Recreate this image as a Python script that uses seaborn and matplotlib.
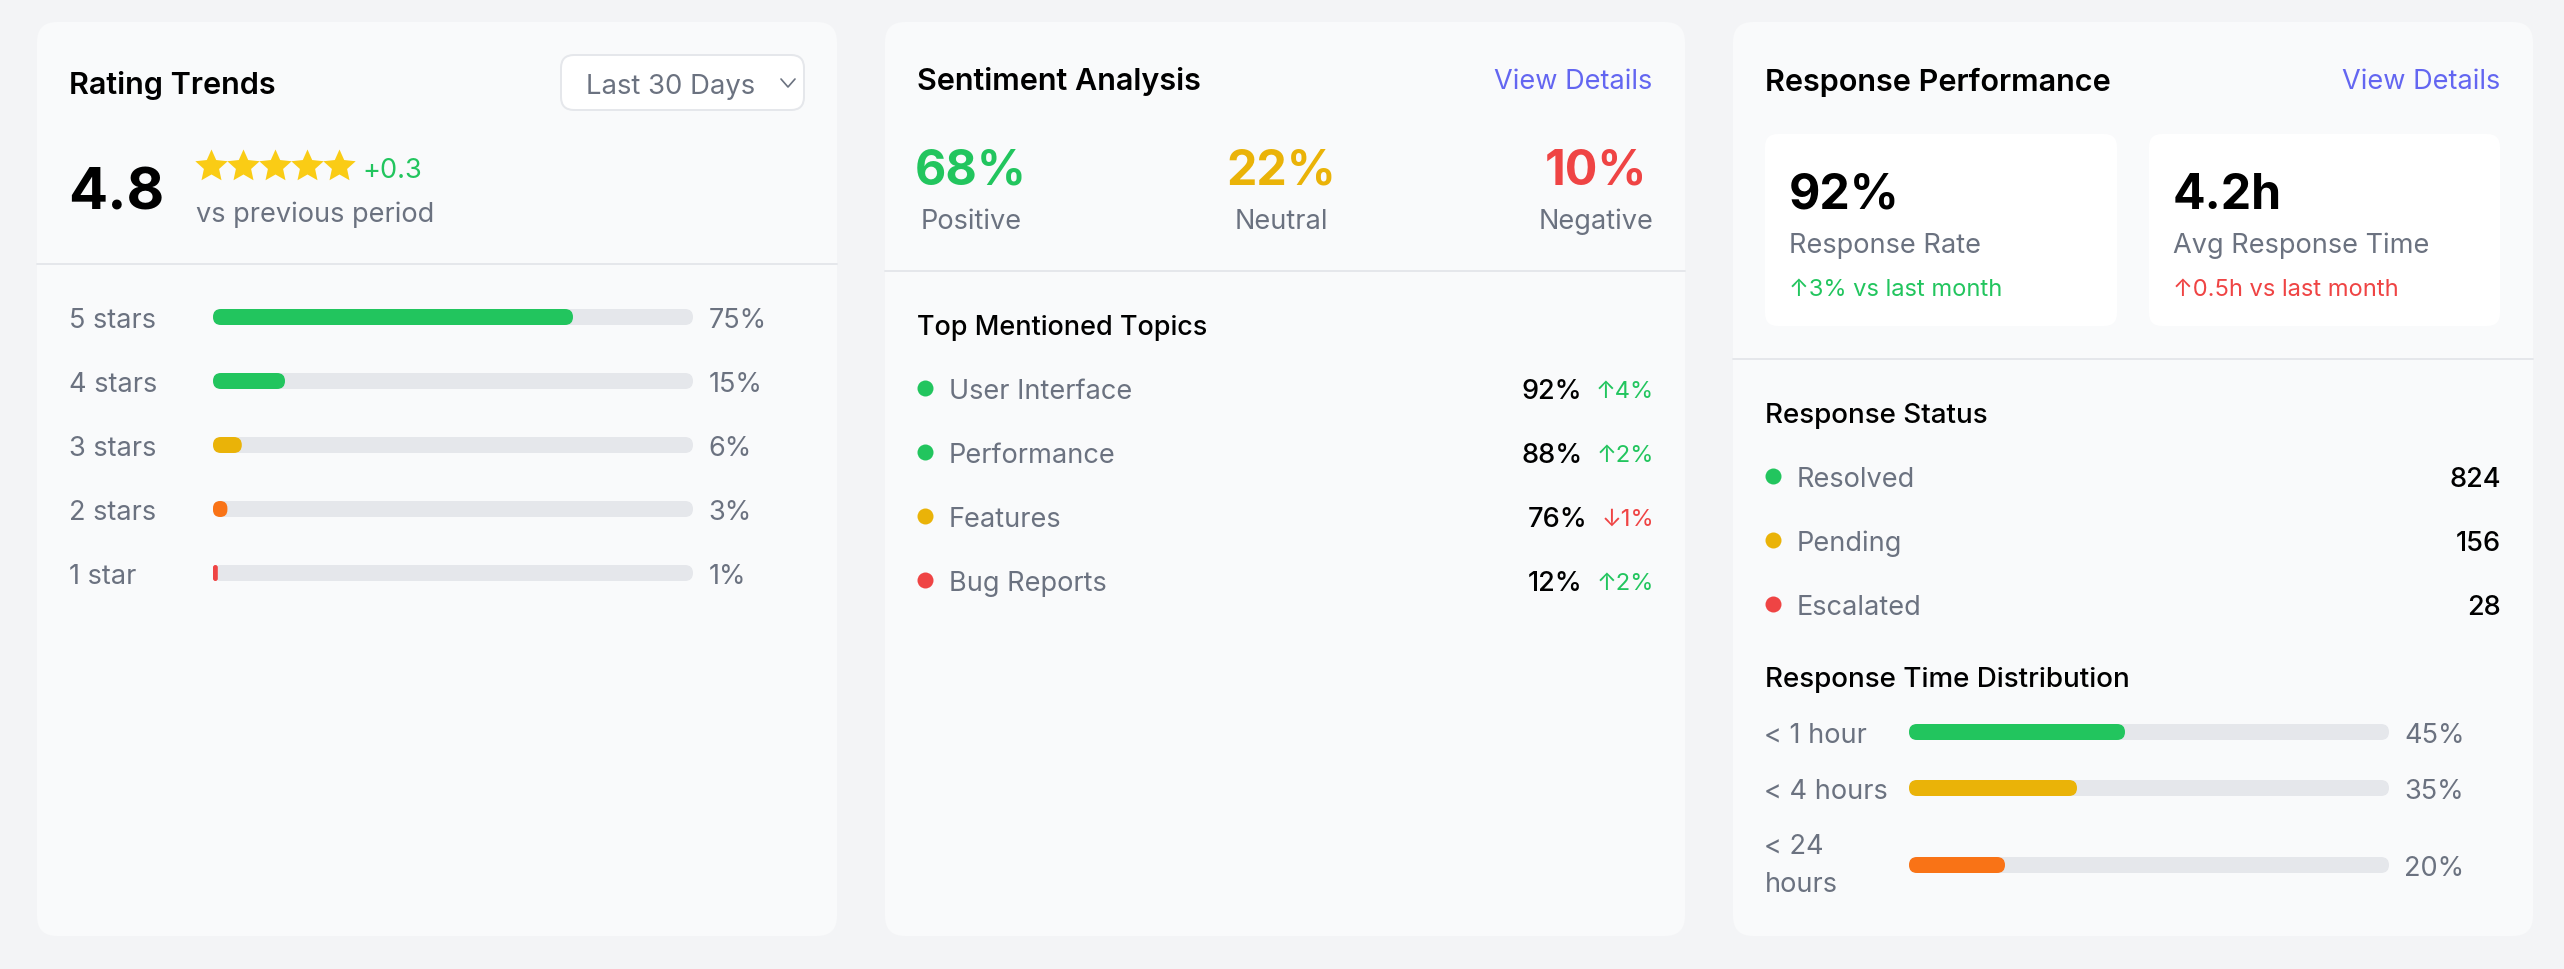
import matplotlib
matplotlib.use("Agg")
import matplotlib.pyplot as plt
from matplotlib.patches import FancyBboxPatch
from matplotlib.path import Path
import pandas as pd
import seaborn as sns

W, H = 2564, 970
SCALE = 1.635
BODY = 16.6
SMALL = 14.5
TITLE = 18.7
BIG = 29.5

BG = "#f3f4f6"
CARD = "#f9fafb"
LINE = "#e5e7eb"
GREEN = "#22c55e"
YELLOW = "#eab308"
ORANGE = "#f97316"
RED = "#ef4444"
GRAY = "#6b7280"
LINK = "#6366f1"

star_labels = ["5 stars", "4 stars", "3 stars", "2 stars", "1 star"]
star_values = [75, 15, 6, 3, 1]
star_colors = [GREEN, GREEN, YELLOW, ORANGE, RED]

sentiment_labels = ["Positive", "Neutral", "Negative"]
sentiment_values = [68, 22, 10]
sentiment_colors = [GREEN, YELLOW, RED]

topic_labels = ["User Interface", "Performance", "Features", "Bug Reports"]
topic_values = [92, 88, 76, 12]
topic_changes = ["↑4%", "↑2%", "↓1%", "↑2%"]
topic_dots = [GREEN, GREEN, YELLOW, RED]
topic_change_colors = [GREEN, GREEN, RED, GREEN]

status_labels = ["Resolved", "Pending", "Escalated"]
status_values = [824, 156, 28]
status_colors = [GREEN, YELLOW, RED]

time_labels = ["< 1 hour", "< 4 hours", "< 24\nhours"]
time_values = [45, 35, 20]
time_colors = [GREEN, YELLOW, ORANGE]

sns.set_theme(style="white")
plt.rcParams["font.family"] = ["Inter", "DejaVu Sans"]

fig = plt.figure(figsize=(W / 100, H / 100), dpi=100, facecolor=BG)
bg = fig.add_axes([0, 0, 1, 1])
bg.set_xlim(0, W)
bg.set_ylim(H, 0)
bg.axis("off")


def fs(css):
    return css * SCALE * 0.72


# y is the middle of the capitals, so the baseline sits a bit lower
def label(x, y, s, css=BODY, color=GRAY, weight="normal", ha="left"):
    return bg.text(x, y + 0.364 * css * SCALE, s, fontsize=fs(css), color=color,
                   fontweight=weight, ha=ha, va="baseline")


def box(x0, y0, x1, y1, r, color, edge="none", lw=0):
    bg.add_patch(FancyBboxPatch((x0, y0), x1 - x0, y1 - y0,
                                boxstyle=f"round,pad=0,rounding_size={r}",
                                facecolor=color, edgecolor=edge, linewidth=lw))


def round_bars(ax, px_x, px_y):
    # swap the plain bars for pill shapes, same geometry
    for bar in list(ax.patches):
        x, y, w, h = bar.get_x(), bar.get_y(), bar.get_width(), bar.get_height()
        r = min(8, w * px_x / 2) / px_x
        pill = FancyBboxPatch((x, y), w, h, boxstyle=f"round,pad=0,rounding_size={r}",
                              mutation_aspect=(1 / px_y) / (1 / px_x),
                              facecolor=bar.get_facecolor(), edgecolor="none", zorder=bar.get_zorder())
        bar.remove()
        ax.add_patch(pill)


def progress(labels, values, colors, label_x, track_x, first_y, spacing):
    n = len(labels)
    track_w, bar_h = 480, 16
    rect = [track_x / W, 1 - (first_y - spacing / 2 + n * spacing) / H, track_w / W, n * spacing / H]
    ax = fig.add_axes(rect)
    ax.patch.set_visible(False)
    df = pd.DataFrame({"label": labels, "value": values, "track": [100] * n})
    sns.barplot(data=df, x="track", y="label", color=LINE, saturation=1, width=bar_h / spacing, ax=ax)
    sns.barplot(data=df, x="value", y="label", hue="label", palette=colors, saturation=1,
                width=bar_h / spacing, legend=False, ax=ax)
    ax.set_xlim(0, 100)
    ax.set(xlabel="", ylabel="", xticks=[])
    sns.despine(ax=ax, left=True, bottom=True)
    round_bars(ax, track_w / 100, spacing)
    ax.tick_params(axis="y", length=0, pad=(track_x - label_x) * 0.72, labelsize=fs(BODY), labelcolor=GRAY)
    for t in ax.get_yticklabels():
        t.set_ha("left")
        if "\n" in t.get_text():
            t.set_va("center")
            t.set_linespacing(1.65)
    for i, v in enumerate(values):
        ax.annotate(f"{v}%", xy=(100, i), xytext=(15.5, 0), textcoords="offset pixels",
                    fontsize=fs(BODY), color=GRAY, va="center_baseline", annotation_clip=False)


# cards
for x0 in [37, 885, 1733]:
    box(x0, 23, x0 + 800, 937, 20, CARD)

# Rating Trends
label(69, 83, "Rating Trends", TITLE, "black", 600)
box(561, 56, 804, 111, 13, "white", LINE, 1.44)
label(586, 84, "Last 30 Days", 16.8)
bg.plot([781, 788, 795], [80, 88, 80], color=GRAY, lw=1.2)
label(68, 188, "4.8", 35.5, "black", 700)
star = Path.unit_regular_star(5, innerCircle=0.47)
bg.scatter([211 + 32 * i for i in range(5)], [167] * 5, marker=star, s=600, color="#facc15", linewidths=0)
label(362, 168, "+0.3", BODY, GREEN)
label(196, 212, "vs previous period", BODY)
bg.plot([37, 837], [265, 265], color=LINE, lw=1.4)
progress(star_labels, star_values, star_colors, 68.5, 213, 318, 64)

# Sentiment Analysis
label(917, 79, "Sentiment Analysis", TITLE, "black", 600)
label(1652, 79, "View Details", BODY, LINK, ha="right")
for x, name, v, c in zip([971, 1281, 1596], sentiment_labels, sentiment_values, sentiment_colors):
    label(x, 167, f"{v}%", BIG, c, 700, ha="center")
    label(x, 219, name, BODY, ha="center")
bg.plot([885, 1685], [272, 272], color=LINE, lw=1.4)
label(917, 325, "Top Mentioned Topics", 16.5, "black", 500)
for i, (name, v, ch) in enumerate(zip(topic_labels, topic_values, topic_changes)):
    y = 389 + 64 * i
    bg.scatter([925], [y], s=(16 * 0.72) ** 2, color=topic_dots[i], linewidths=0)
    label(949, y, name, BODY)
    t = label(1654, y, ch, SMALL, topic_change_colors[i], ha="right")
    w = t.get_window_extent(fig.canvas.get_renderer()).width
    label(1654 - w - 14, y, f"{v}%", BODY, "black", 500, ha="right")

# Response Performance
label(1765, 80, "Response Performance", TITLE, "black", 600)
label(2500, 79, "View Details", BODY, LINK, ha="right")
box(1765, 135, 2117, 327, 13, "white")
box(2149, 135, 2500, 327, 13, "white")
label(1789, 191, "92%", BIG, "black", 700)
label(1789, 243, "Response Rate", BODY)
label(1789, 287, "↑3% vs last month", SMALL, GREEN)
label(2173, 191, "4.2h", BIG, "black", 700)
label(2173, 243, "Avg Response Time", BODY)
label(2173, 287, "↑0.5h vs last month", SMALL, RED)
bg.plot([1733, 2533], [360, 360], color=LINE, lw=1.4)
label(1765, 413, "Response Status", 17, "black", 500)
for i, (name, v) in enumerate(zip(status_labels, status_values)):
    y = 477 + 64 * i
    bg.scatter([1773], [y], s=(16 * 0.72) ** 2, color=status_colors[i], linewidths=0)
    label(1797, y, name, BODY)
    label(2501, y, str(v), BODY, "black", 500, ha="right")
label(1765, 677, "Response Time Distribution", 17, "black", 500)
progress(time_labels[:2], time_values[:2], time_colors[:2], 1764.5, 1909, 733, 56)
progress(time_labels[2:], time_values[2:], [time_colors[2]], 1764.5, 1909, 866, 64)

fig.savefig("out.png", dpi=100, facecolor=BG)
